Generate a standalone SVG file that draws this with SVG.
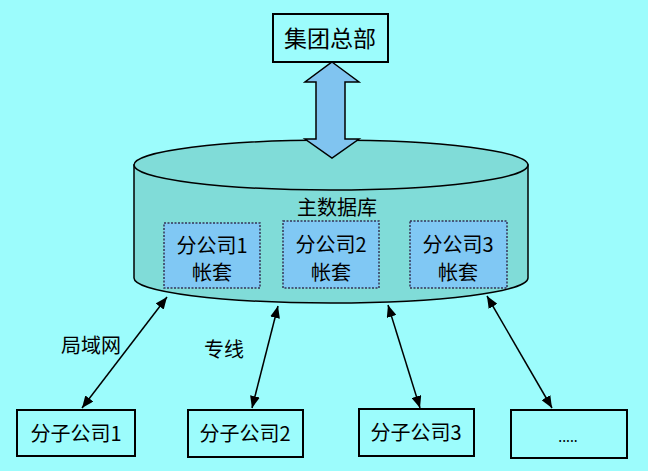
<svg xmlns="http://www.w3.org/2000/svg" width="648" height="471" viewBox="0 0 648 471">
<defs>
<marker id="ah" viewBox="0 0 12 10" refX="12" refY="5" markerWidth="12" markerHeight="10" markerUnits="userSpaceOnUse" orient="auto-start-reverse">
<path d="M0,0 L12,5 L0,10 z" fill="#000"/>
</marker>
<style>
.t{font-family:"Noto Sans CJK SC","Liberation Sans",sans-serif;fill:#000;text-anchor:middle}
.box{fill:none;stroke:#000;stroke-width:2}
.sub{fill:#80c8f4;stroke:#335;stroke-width:1.5;stroke-dasharray:2,1.5}
.link{stroke:#000;stroke-width:1.5;fill:none;marker-start:url(#ah);marker-end:url(#ah)}
</style>
</defs>
<rect width="648" height="471" fill="#9cfcfc"/>
<g id="db">
<path d="M134,165 L134,278 A197,25 0 0 0 528,278 L528,165 z" fill="#80dcd8" stroke="#000" stroke-width="1.5"/>
<ellipse cx="331" cy="165" rx="197" ry="25" fill="#80dcd8" stroke="#000" stroke-width="1.5"/>
<text class="t" x="337" y="215" font-size="20">主数据库</text>
</g>
<g id="acct1">
<rect class="sub" x="164" y="223" width="96" height="65"/>
<text class="t" x="212" y="253" font-size="20">分公司1</text>
<text class="t" x="212" y="280" font-size="20">帐套</text>
</g>
<g id="acct2">
<rect class="sub" x="283" y="221" width="96" height="67"/>
<text class="t" x="331" y="252" font-size="20">分公司2</text>
<text class="t" x="331" y="280" font-size="20">帐套</text>
</g>
<g id="acct3">
<rect class="sub" x="410" y="221" width="97" height="67"/>
<text class="t" x="458" y="252" font-size="20">分公司3</text>
<text class="t" x="458" y="280" font-size="20">帐套</text>
</g>
<g id="hq">
<rect class="box" x="273" y="14" width="115" height="48"/>
<text class="t" x="330" y="47" font-size="23">集团总部</text>
</g>
<g id="bigarrow">
<path d="M332,62 L359,82 L345,82 L345,139 L359,139 L332,158 L305,139 L316,139 L316,82 L305,82 z" fill="#80c4f0" stroke="#000" stroke-width="1.5"/>
</g>
<g id="sub1">
<rect class="box" x="17" y="410" width="118" height="46"/>
<text class="t" x="76" y="441" font-size="20">分子公司1</text>
</g>
<g id="sub2">
<rect class="box" x="188" y="410" width="115" height="47"/>
<text class="t" x="245" y="441" font-size="20">分子公司2</text>
</g>
<g id="sub3">
<rect class="box" x="359" y="409" width="115" height="47"/>
<text class="t" x="416" y="440" font-size="20">分子公司3</text>
</g>
<g id="sub4">
<rect class="box" x="511" y="410" width="116" height="48"/>
<text class="t" x="568" y="442" font-size="14">.....</text>
</g>
<g id="connectors">
<line class="link" x1="167" y1="297" x2="82" y2="408"/>
<line class="link" x1="278" y1="306" x2="252" y2="408"/>
<line class="link" x1="388" y1="305" x2="420" y2="408"/>
<line class="link" x1="487" y1="296" x2="552" y2="408"/>
<text class="t" x="91" y="353" font-size="20">局域网</text>
<text class="t" x="224" y="357" font-size="20">专线</text>
</g>
</svg>
